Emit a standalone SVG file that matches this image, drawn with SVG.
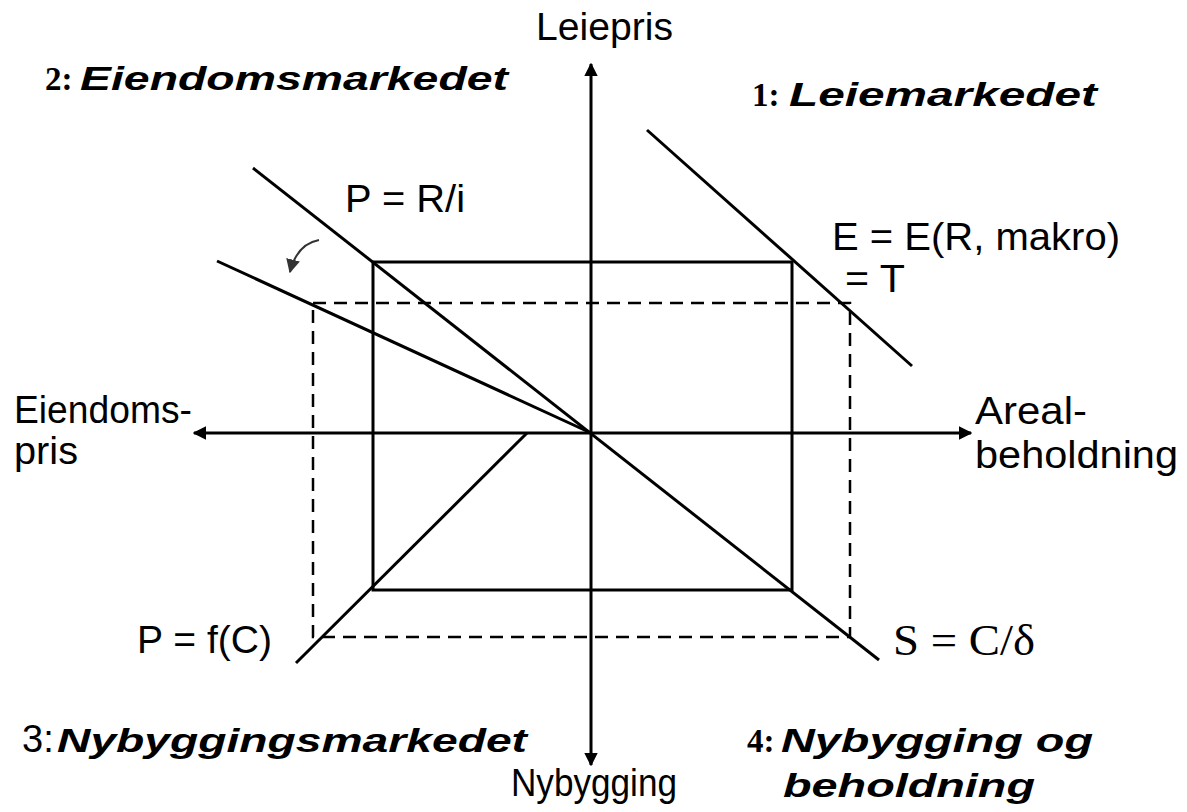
<svg xmlns="http://www.w3.org/2000/svg" width="1187" height="812" viewBox="0 0 1187 812">
<style>
.ln{stroke:#000;stroke-width:3;fill:none}
.ds{stroke:#000;stroke-width:2.5;fill:none;stroke-dasharray:13 8}
.t{font-family:"Liberation Sans",Arial,sans-serif;font-size:38px;fill:#000}
.h{font-family:"Liberation Sans",Arial,sans-serif;font-size:34px;font-weight:bold;font-style:italic;fill:#000}
.n{font-family:"Liberation Serif","Times New Roman",serif;font-size:33px;font-weight:bold;fill:#000}
.m{font-family:"Liberation Serif","Times New Roman",serif;font-size:44px;fill:#000}
</style>
<defs>
<marker id="ah" viewBox="0 0 10 10" refX="9" refY="5" markerWidth="4.5" markerHeight="4.5" markerUnits="strokeWidth" orient="auto">
<path d="M0,0 L10,5 L0,10 z" fill="#000"/>
</marker>
<marker id="ah2" viewBox="0 0 10 10" refX="9" refY="5" markerWidth="7" markerHeight="7" markerUnits="strokeWidth" orient="auto">
<path d="M0,0 L10,5 L0,10 z" fill="#333"/>
</marker>
</defs>
<rect width="1187" height="812" fill="#fff"/>
<g id="connectors">
<line class="ln" x1="591" y1="433" x2="591" y2="64" marker-end="url(#ah)"/>
<line class="ln" x1="591" y1="433" x2="591" y2="765" marker-end="url(#ah)"/>
<line class="ln" x1="591" y1="433" x2="194" y2="433" marker-end="url(#ah)"/>
<line class="ln" x1="591" y1="433" x2="971" y2="433" marker-end="url(#ah)"/>
<rect class="ln" x="373" y="262" width="419" height="328"/>
<rect class="ds" x="313" y="303" width="537" height="334"/>
<line class="ln" x1="253" y1="168" x2="879" y2="660"/>
<line class="ln" x1="217" y1="261" x2="591" y2="433"/>
<line class="ln" x1="647" y1="130" x2="912" y2="366"/>
<line class="ln" x1="296" y1="663" x2="527" y2="433"/>
<path d="M319,240 Q297,244 290,272" stroke="#333" stroke-width="2" fill="none" marker-end="url(#ah2)"/>
</g>
<g id="labels">
<text class="t" x="536" y="40" textLength="137" lengthAdjust="spacingAndGlyphs">Leiepris</text>
<g id="q2"><text class="n" x="45" y="90">2:</text><text class="h" x="80" y="90" textLength="428" lengthAdjust="spacingAndGlyphs">Eiendomsmarkedet</text></g>
<g id="q1"><text class="n" x="752" y="106">1:</text><text class="h" x="789" y="106" textLength="308" lengthAdjust="spacingAndGlyphs">Leiemarkedet</text></g>
<g id="q3"><text class="t" x="22" y="752" font-size="33">3:</text><text class="h" x="57" y="752" textLength="470" lengthAdjust="spacingAndGlyphs">Nybyggingsmarkedet</text></g>
<g id="q4"><text class="n" x="747" y="752">4:</text><text class="h" x="781" y="752" textLength="312" lengthAdjust="spacingAndGlyphs">Nybygging og</text><text class="h" x="783" y="797" textLength="252" lengthAdjust="spacingAndGlyphs">beholdning</text></g>
<text class="t" x="345" y="212" textLength="120" lengthAdjust="spacingAndGlyphs">P = R/i</text>
<text class="t" x="832" y="250" textLength="288" lengthAdjust="spacingAndGlyphs">E = E(R, makro)</text>
<text class="t" x="845" y="292" textLength="60" lengthAdjust="spacingAndGlyphs">= T</text>
<text class="t" x="14" y="423" textLength="178" lengthAdjust="spacingAndGlyphs">Eiendoms-</text>
<text class="t" x="14" y="464" textLength="64" lengthAdjust="spacingAndGlyphs">pris</text>
<text class="t" x="975" y="424" textLength="112" lengthAdjust="spacingAndGlyphs">Areal-</text>
<text class="t" x="975" y="468" textLength="203" lengthAdjust="spacingAndGlyphs">beholdning</text>
<text class="t" x="137" y="653" textLength="135" lengthAdjust="spacingAndGlyphs">P = f(C)</text>
<text class="m" x="893" y="655" textLength="142" lengthAdjust="spacingAndGlyphs">S = C/δ</text>
<text class="t" x="511" y="796" textLength="166" lengthAdjust="spacingAndGlyphs">Nybygging</text>
</g>
</svg>
